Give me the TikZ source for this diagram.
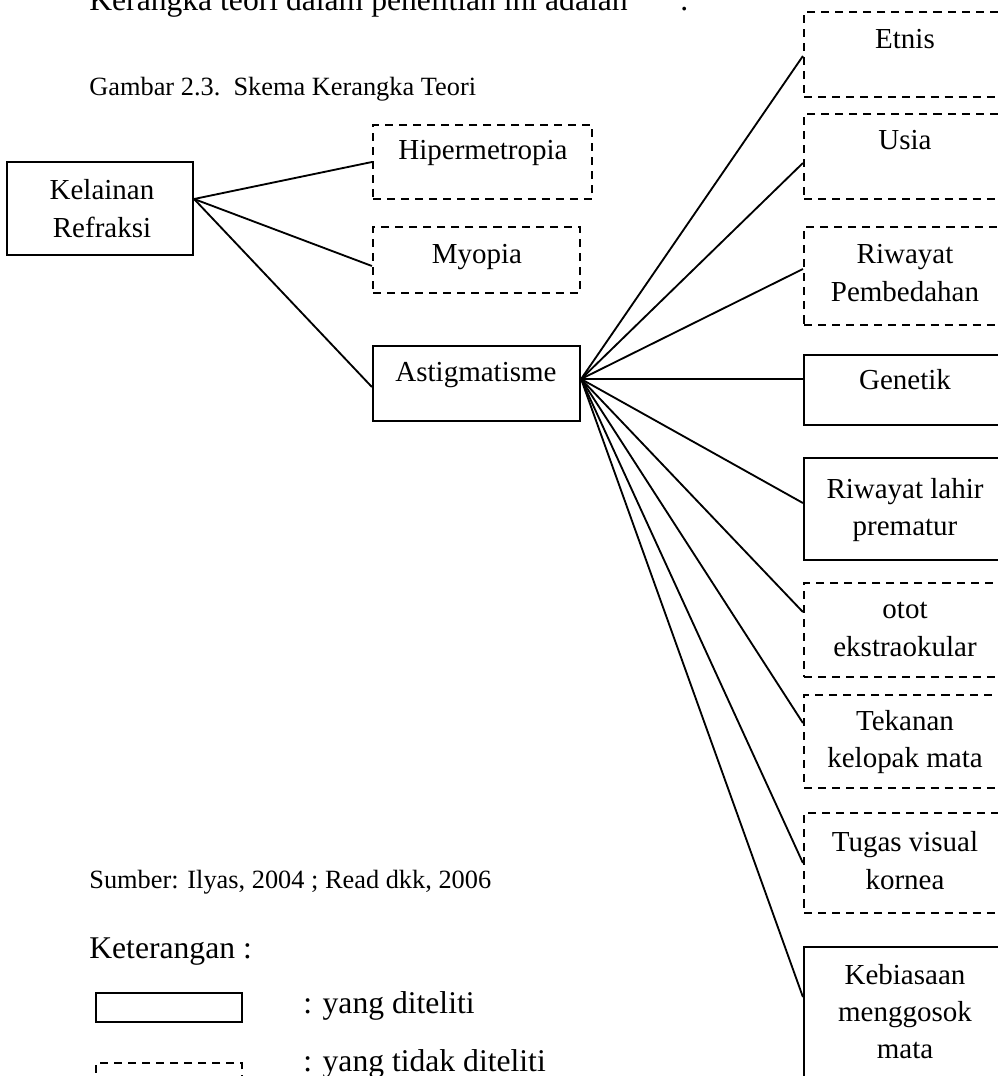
\documentclass[tikz,border=0pt]{standalone}
\usepackage{fontspec}
\setmainfont{Liberation Serif}
\usetikzlibrary{calc}
\tikzset{
  bx/.style={draw, line width=1.25pt, inner sep=0pt},
  dbx/.style={bx, dash pattern=on 4.6pt off 3.4pt},
  txt/.style={font=\fontsize{16.5}{21.3}\selectfont, align=center, inner sep=0pt},
  big/.style={font=\fontsize{18}{22}\selectfont, inner sep=0pt, anchor=base west},
  small/.style={font=\fontsize{15}{18}\selectfont, inner sep=0pt, anchor=base west},
  con/.style={line width=1.05pt},
}
\begin{document}
\begin{tikzpicture}[x=0.02cm,y=-0.02cm]
\clip (0,0) rectangle (998,1076);
\fill[white] (0,0) rectangle (998,1076);

% header texts
\node[big] (intro) at (89,10) {Kerangka teori dalam penelitian ini adalah\hspace{30pt}.};
\node[small] (cap) at (89,95) {Gambar 2.3.\ \ Skema Kerangka Teori};

% left boxes
\node[bx,  minimum width=3.72cm, minimum height=1.86cm] (kel) at (100,208.5) {};
\node[dbx, minimum width=4.38cm, minimum height=1.48cm] (hip) at (482.5,162) {};
\node[dbx, minimum width=4.14cm, minimum height=1.32cm] (myo) at (476.5,260) {};
\node[bx,  minimum width=4.14cm, minimum height=1.50cm] (ast) at (476.5,383.5) {};

% right column boxes
\node[dbx, minimum width=4.04cm, minimum height=1.70cm] (etn) at (905,54.5) {};
\node[dbx, minimum width=4.04cm, minimum height=1.70cm] (usi) at (905,156.5) {};
\node[dbx, minimum width=4.04cm, minimum height=1.96cm] (rpb) at (905,276) {};
\node[bx,  minimum width=4.04cm, minimum height=1.40cm] (gen) at (905,390) {};
\node[bx,  minimum width=4.04cm, minimum height=2.04cm] (rlp) at (905,509) {};
\node[dbx, minimum width=4.04cm, minimum height=1.88cm] (oto) at (905,630) {};
\node[dbx, minimum width=4.04cm, minimum height=1.86cm] (tek) at (905,741.5) {};
\node[dbx, minimum width=4.04cm, minimum height=2.00cm] (tug) at (905,863) {};
\node[bx,  minimum width=4.04cm, minimum height=2.66cm] (keb) at (905,1013.5) {};

% box texts
\node[txt] (tkel) at (102,208.5) {Kelainan\\Refraksi};
\node[txt, anchor=base] (thip) at (483,159.5) {Hipermetropia};
\node[txt, anchor=base] (tmyo) at (477,263.5) {Myopia};
\node[txt, anchor=base] (tast) at (476,381.5) {Astigmatisme};
\node[txt, anchor=base] (tetn) at (905,48.5) {Etnis};
\node[txt, anchor=base] (tusi) at (905,149.5) {Usia};
\node[txt] (trpb) at (905,273) {Riwayat\\Pembedahan};
\node[txt, anchor=base] (tgen) at (905,389.5) {Genetik};
\node[txt] (trlp) at (905,510) {Riwayat lahir\\prematur};
\node[txt] (toto) at (905,629.5) {otot\\ekstraokular};
\node[txt] (ttek) at (905,742) {Tekanan\\kelopak mata};
\node[txt] (ttug) at (905,860.5) {Tugas visual\\kornea};
\node[txt] (tkeb) at (905,1011.5) {Kebiasaan\\menggosok\\mata};

% connectors
\coordinate (kout) at ($(kel.east)+(0,-9.5)$);
\coordinate (aout) at ($(ast.east)+(0,-4.5)$);
\draw[con] (kout) -- (hip.west);
\draw[con] (kout) -- ($(myo.west)+(0,6)$);
\draw[con] (kout) -- ($(ast.west)+(0,3.5)$);
\draw[con] (aout) -- ($(etn.west)+(0,1.5)$);
\draw[con] (aout) -- ($(usi.west)+(0,6.5)$);
\draw[con] (aout) -- ($(rpb.west)+(0,-7)$);
\draw[con] (aout) -- ($(gen.west)+(0,-11)$);
\draw[con] (aout) -- ($(rlp.west)+(0,-6)$);
\draw[con] (aout) -- ($(oto.west)+(0,-18)$);
\draw[con] (aout) -- ($(tek.west)+(0,-18.5)$);
\draw[con] (aout) -- (tug.west);
\draw[con] (aout) -- ($(keb.west)+(0,-16.5)$);

% source and legend
\node[small] (src) at (89,888) {Sumber: Ilyas, 2004 ; Read dkk, 2006};
\node[big] (ket) at (89,958) {Keterangan :};
\node[bx,  minimum width=2.92cm, minimum height=0.58cm] (leg1) at (169,1007.5) {};
\node[dbx, minimum width=2.92cm, minimum height=0.58cm] (leg2) at (169,1077.5) {};
\node[big] (tleg1) at (303,1013) {: yang diteliti};
\node[big] (tleg2) at (303,1071) {: yang tidak diteliti};
\end{tikzpicture}
\end{document}
